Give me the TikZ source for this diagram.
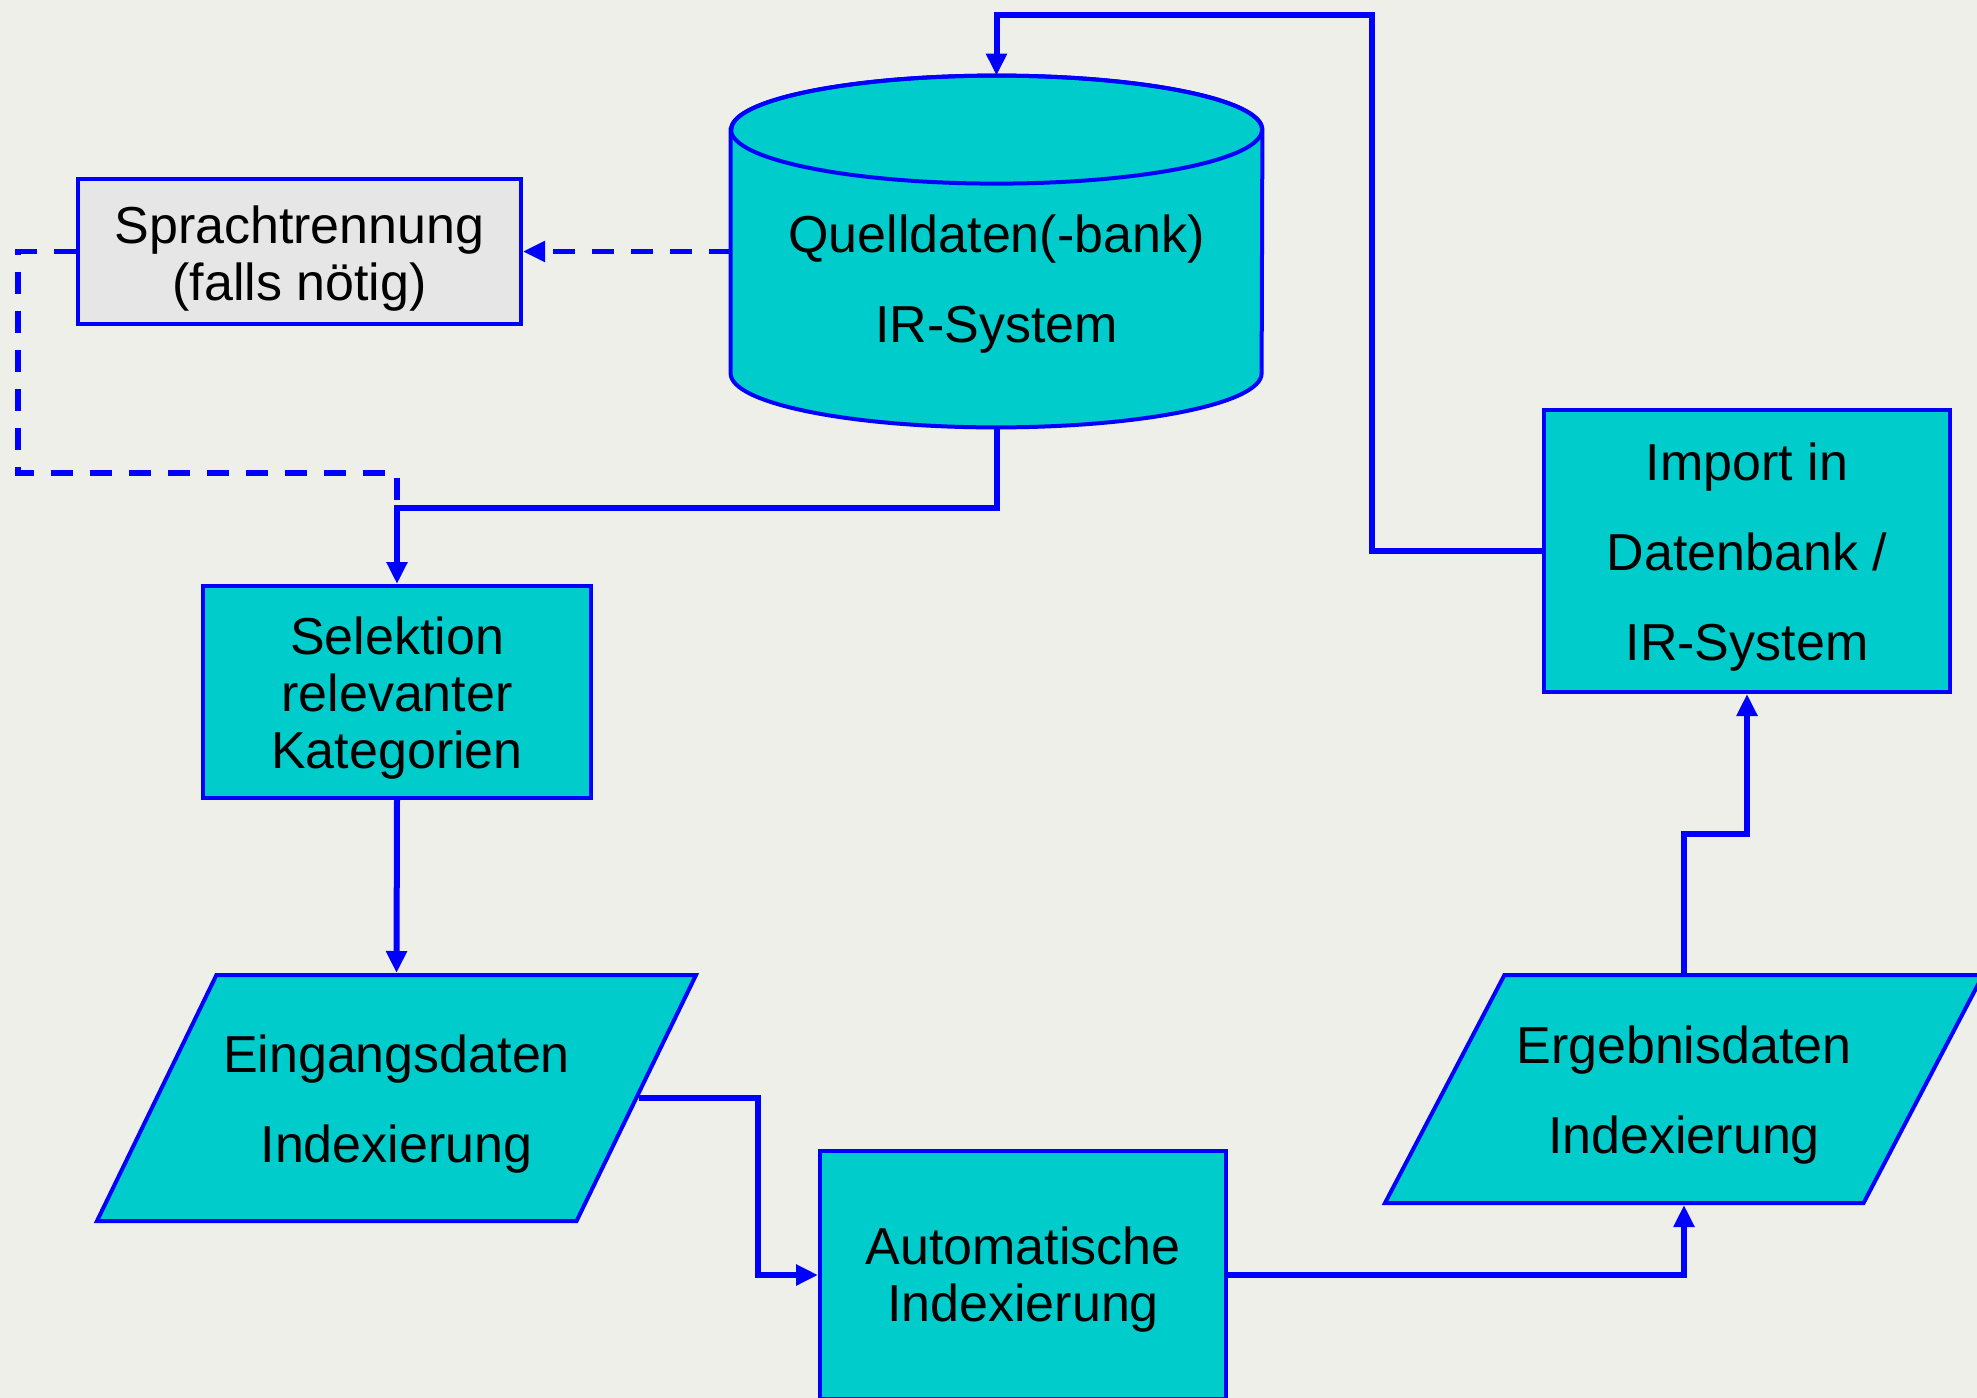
\documentclass[tikz,border=0pt]{standalone}
\usepackage{fontspec}
\setmainfont{Liberation Sans}
\usetikzlibrary{arrows.meta,shapes.geometric}

\definecolor{hintergrund}{RGB}{239,239,234}
\definecolor{tuerkis}{RGB}{0,204,204}
\definecolor{hellgrau}{RGB}{230,230,230}

\begin{document}
\begin{tikzpicture}[x=0.5pt, y=-0.5pt, >={Triangle[length=11pt,width=10pt]},
    every node/.style={font=\fontsize{26}{28.5}\selectfont, align=center, text=black},
    box/.style={draw=blue, line width=2pt, fill=tuerkis, rectangle, inner sep=0pt},
    daten/.style={draw=blue, line width=2pt, fill=tuerkis, trapezium, trapezium stretches body, inner sep=0pt,
      text height=34.35pt, text depth=34.35pt, trapezium left angle=49, trapezium right angle=131},
    weit/.style={font=\fontsize{26}{45}\selectfont},
    flow/.style={draw=blue, line width=3pt},
    dashflow/.style={draw=blue, line width=2.6pt, dash pattern=on 11pt off 8.5pt}]
    \fill[hintergrund] (0,0) rectangle (1977,1398);
    \useasboundingbox (0,0) rectangle (1977,1398);

    % Datenbank
    \node[minimum width=265.5pt, minimum height=175.5pt, inner sep=0pt] (quelle) at (996.5,251.5) {};
    \path[draw=blue, line width=2pt, fill=tuerkis] ([yshift=-27pt]quelle.north west) -- ([yshift=27pt]quelle.south west)
      arc[start angle=180, end angle=360, x radius=132.75pt, y radius=27pt]
      -- ([yshift=-27pt]quelle.north east)
      arc[start angle=0, end angle=180, x radius=132.75pt, y radius=27pt] -- cycle;
    \draw[blue, line width=2pt] ([yshift=-27pt]quelle.north) ellipse [x radius=132.75pt, y radius=27pt];
    \node[weit] (quelletext) at (996.5,284) {Quelldaten(-bank)\\IR-System};

    \node[box, fill=hellgrau, minimum width=221.5pt, minimum height=72.5pt,
      label={[yshift=-3.5pt]center:{Sprachtrennung\\(falls nötig)}}] (spr) at (299.5,251.5) {};
    \node[box, minimum width=194pt, minimum height=106pt,
      label={[yshift=-3pt]center:{Selektion\\relevanter\\Kategorien}}] (sel) at (397,692) {};
    \node[daten, minimum width=299.5pt, minimum height=123pt,
      label={[weit, yshift=-3pt]center:{Eingangsdaten\\Indexierung}}] (eing) at (396.5,1098) {};
    \node[box, minimum width=203pt, minimum height=124pt,
      label={[yshift=-2.5pt]center:{Automatische\\Indexierung}}] (auto) at (1023,1275) {};
    \node[daten, minimum width=299pt, minimum height=114pt,
      label={[weit, yshift=-3pt]center:{Ergebnisdaten\\Indexierung}}] (erg) at (1684,1089) {};
    \node[box, minimum width=203pt, minimum height=141pt,
      label={[weit, yshift=-3pt]center:{Import in\\Datenbank /\\IR-System}}] (imp) at (1747,551) {};

    \coordinate (links) at (18,473);
    \coordinate (knoten) at (397,508);
    \coordinate (knick) at (758,1275);
    \coordinate (stufe) at (1747,834);
    \coordinate (oben) at (1372,15);

    \draw[dashflow,->] (quelle.west) -- (spr.east);
    \draw[dashflow] (spr.west) -| (links) -| (knoten);
    \draw[flow,->] (quelle.south) |- (knoten) -- (sel.north);
    \draw[flow,->] (sel.south) -- (eing.north);
    \draw[flow,->] (eing.east) -| (knick) -- (auto.west);
    \draw[flow,->] (auto.east) -| (erg.south);
    \draw[flow,->] (erg.north) |- (stufe) -- (imp.south);
    \draw[flow,->] (imp.west) -| (oben) -| (quelle.north);
\end{tikzpicture}
\end{document}
